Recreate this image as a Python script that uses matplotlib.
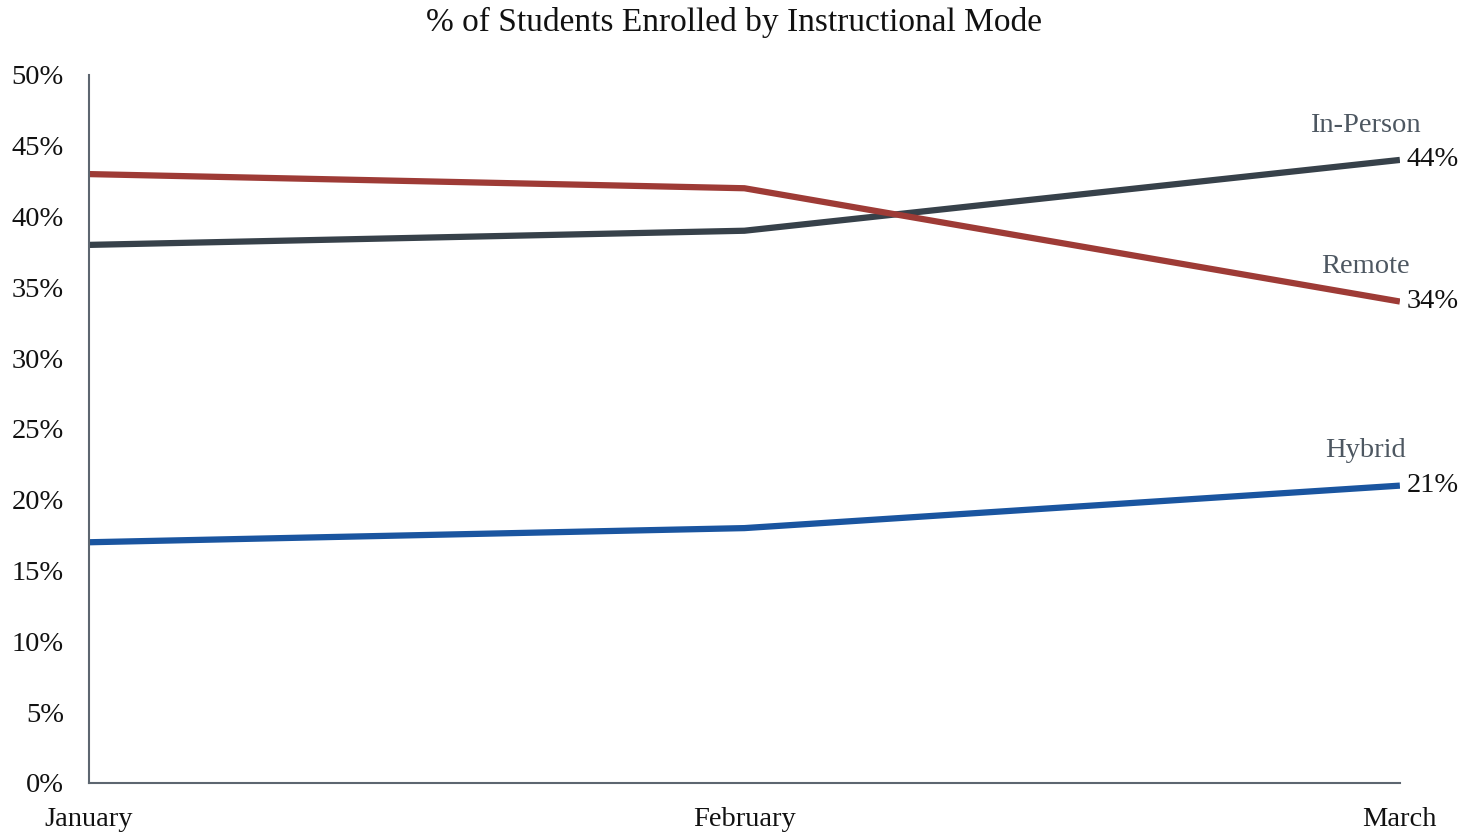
#importing libraries
import numpy as np
import matplotlib.pyplot as plt
from matplotlib.ticker import PercentFormatter

#data
months = ['January', 'February', 'March']
in_person = [38, 39, 44]
remote = [43, 42, 34]
hybrid = [17, 18, 21]
series_names = ['In-Person', 'Remote', 'Hybrid']
series_colors = ['#37414a', '#9e3b36', '#1a55a0']

plt.rcParams['font.family'] = ['Liberation Serif', 'DejaVu Serif']

fig = plt.figure(figsize=(14.68, 8.32), dpi=100)
ax = fig.add_axes([0.0606, 0.0589, 0.893, 0.851])
x = np.arange(len(months))

for name, vals, col in zip(series_names, [in_person, remote, hybrid], series_colors):
    ax.plot(x, vals, color=col, linewidth=4.5, solid_capstyle='butt')
    #value label right of the last point
    ax.annotate(f"{vals[-1]}%", (x[-1], vals[-1]), xytext=(5, 0),
                textcoords='offset points', ha='left', va='center',
                fontsize=20.5, color='#111111')
    #series name above the last point
    ax.annotate(name, (x[-1], vals[-1]), xytext=(-25, 25),
                textcoords='offset points', ha='center', va='center',
                fontsize=20.5, color='#4d5761')

ax.set_xlim(0, 2)
ax.set_ylim(0, 50)
ax.set_yticks(np.arange(0, 51, 5))
ax.yaxis.set_major_formatter(PercentFormatter(decimals=0))
ax.set_xticks(x, months)
ax.tick_params(axis='both', length=0, labelsize=20.5, colors='#111111')
ax.tick_params(axis='y', pad=18)
ax.tick_params(axis='x', pad=17)
for side in ['top', 'right']:
    ax.spines[side].set_visible(False)
for side in ['left', 'bottom']:
    ax.spines[side].set_color('#5d6670')
    ax.spines[side].set_linewidth(1.5)

fig.text(0.5, 0.973, '% of Students Enrolled by Instructional Mode',
         ha='center', va='center', fontsize=24, color='#111111')

plt.savefig("out.png")
